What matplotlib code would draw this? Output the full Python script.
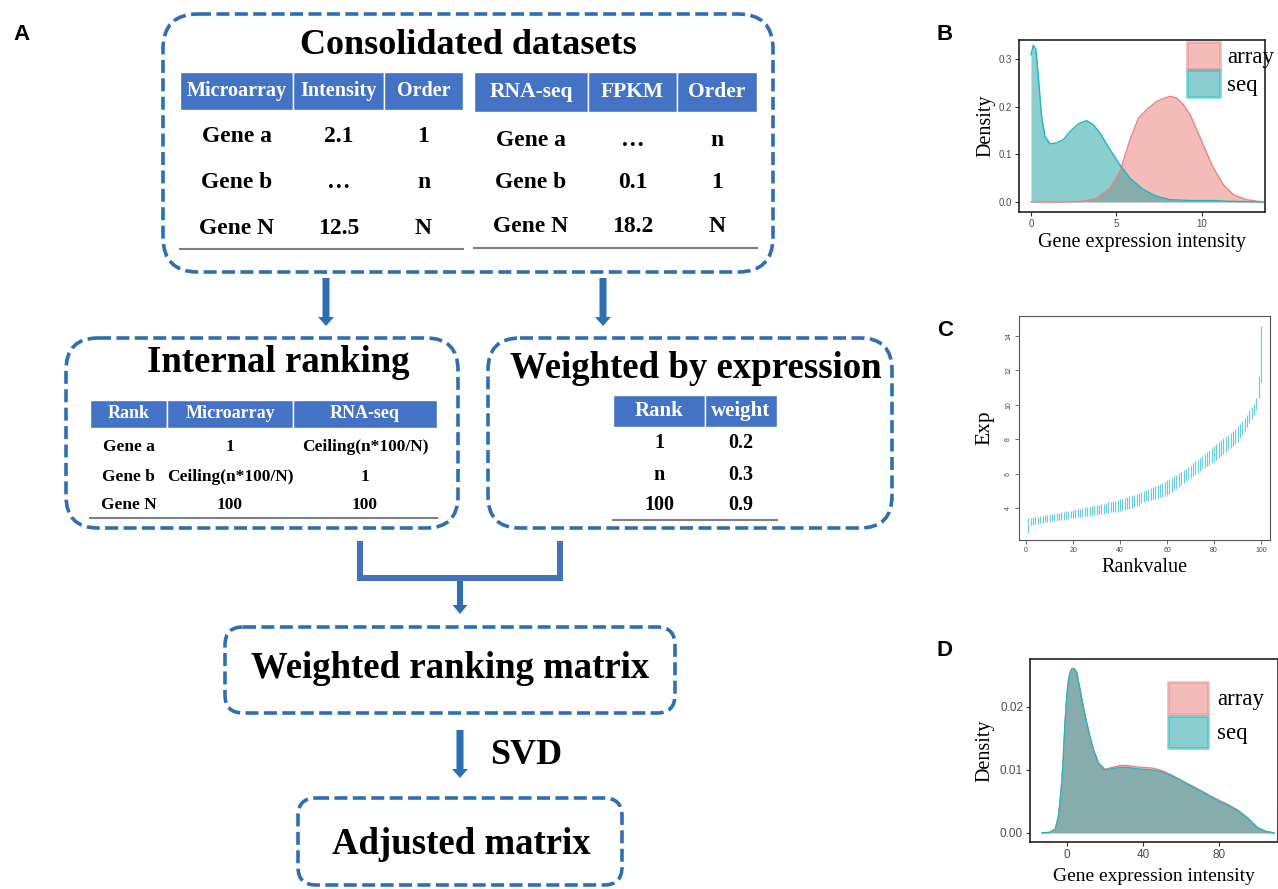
import matplotlib
matplotlib.use("Agg")
import matplotlib.pyplot as plt
from matplotlib.patches import FancyBboxPatch, Rectangle, Patch

plt.rcParams['font.family'] = ['Liberation Serif', 'DejaVu Serif']

# ---------------- panel A: table contents ----------------
micro_cols = ["Microarray", "Intensity", "Order"]
micro_rows = [["Gene a", "2.1", "1"], ["Gene b", "…", "n"], ["Gene N", "12.5", "N"]]
seq_cols = ["RNA-seq", "FPKM", "Order"]
seq_rows = [["Gene a", "…", "n"], ["Gene b", "0.1", "1"], ["Gene N", "18.2", "N"]]
rank_cols = ["Rank", "Microarray", "RNA-seq"]
rank_rows = [["Gene a", "1", "Ceiling(n*100/N)"],
             ["Gene b", "Ceiling(n*100/N)", "1"],
             ["Gene N", "100", "100"]]
weight_cols = ["Rank", "weight"]
weight_rows = [["1", "0.2"], ["n", "0.3"], ["100", "0.9"]]

# ---------------- panel B: density before adjustment ----------------
b_seq_x = [0.0, 0.14, 0.29, 0.43, 0.62, 0.82, 1.11, 1.5, 1.9, 2.29, 2.77, 3.26, 3.65,
           4.04, 4.63, 5.21, 5.8, 6.58, 7.36, 8.14, 9.3, 10.7, 11.66, 13.6]
b_seq = [0.309, 0.329, 0.32, 0.264, 0.18, 0.138, 0.122, 0.124, 0.131, 0.148, 0.164, 0.171,
         0.162, 0.145, 0.11, 0.078, 0.05, 0.026, 0.012, 0.005, 0.003, 0.003, 0.0014, 0.0]
b_array_x = [0.0, 1.9, 3.07, 3.85, 4.63, 5.21, 5.8, 6.29, 6.78, 7.36, 7.75, 8.14, 8.54,
             8.93, 9.32, 9.7, 10.2, 10.68, 11.27, 11.86, 12.6, 13.6]
b_array = [0.0, 0.0, 0.0014, 0.008, 0.029, 0.064, 0.131, 0.176, 0.194, 0.211, 0.217, 0.222,
           0.218, 0.204, 0.183, 0.152, 0.11, 0.071, 0.036, 0.015, 0.005, 0.0]

# ---------------- panel C: expression range per rank ----------------
c_rank = list(range(1, 101))
c_upper = [3.40, 3.43, 3.45, 3.48, 3.50, 3.52, 3.55, 3.57, 3.60, 3.62,
           3.64, 3.67, 3.69, 3.72, 3.74, 3.77, 3.80, 3.82, 3.85, 3.90,
           3.92, 3.95, 3.97, 4.00, 4.03, 4.05, 4.08, 4.11, 4.14, 4.17,
           4.20, 4.23, 4.26, 4.29, 4.32, 4.35, 4.38, 4.42, 4.46, 4.50,
           4.54, 4.58, 4.62, 4.67, 4.72, 4.77, 4.82, 4.88, 4.94, 5.00,
           5.05, 5.10, 5.16, 5.21, 5.27, 5.33, 5.39, 5.46, 5.53, 5.60,
           5.68, 5.76, 5.84, 5.92, 6.01, 6.10, 6.19, 6.29, 6.39, 6.50,
           6.60, 6.71, 6.81, 6.92, 7.03, 7.14, 7.25, 7.37, 7.48, 7.60,
           7.71, 7.82, 7.93, 8.04, 8.15, 8.26, 8.38, 8.50, 8.62, 8.75,
           8.90, 9.06, 9.23, 9.42, 9.70, 9.85, 10.05, 10.40, 11.70, 14.60]
c_lower = [2.56, 3.00, 3.03, 3.06, 3.09, 3.12, 3.14, 3.16, 3.18, 3.20,
           3.22, 3.24, 3.26, 3.28, 3.30, 3.32, 3.34, 3.36, 3.39, 3.42,
           3.44, 3.46, 3.48, 3.50, 3.52, 3.54, 3.56, 3.58, 3.60, 3.62,
           3.64, 3.66, 3.68, 3.70, 3.72, 3.74, 3.76, 3.77, 3.78, 3.80,
           3.84, 3.88, 3.92, 3.97, 4.02, 4.08, 4.14, 4.20, 4.27, 4.34,
           4.38, 4.42, 4.46, 4.50, 4.54, 4.58, 4.62, 4.66, 4.70, 4.75,
           4.84, 4.93, 5.03, 5.13, 5.23, 5.33, 5.44, 5.55, 5.66, 5.77,
           5.86, 5.95, 6.05, 6.14, 6.24, 6.33, 6.43, 6.52, 6.61, 6.70,
           6.80, 6.91, 7.02, 7.13, 7.24, 7.35, 7.47, 7.59, 7.72, 7.85,
           8.05, 8.25, 8.46, 8.68, 8.93, 9.15, 9.40, 9.70, 10.40, 11.30]

# ---------------- panel D: density after adjustment ----------------
d_x = [-13, -9, -6, -4.4, -3.5, -2.6, -1.8, -0.9, 0, 0.8, 1.75, 2.6, 3.5, 4.4, 5.3, 7, 8.7,
       10.5, 12, 14, 16.7, 20, 24, 28, 32, 36, 40, 45, 50, 55, 60, 65, 70, 75, 80, 85, 90,
       95, 100, 104, 109]
d_seq = [0.0, 0.0001, 0.0006, 0.0026, 0.005, 0.008, 0.012, 0.0175, 0.0215, 0.024, 0.0254,
         0.026, 0.0261, 0.0259, 0.0254, 0.0227, 0.02, 0.0175, 0.0155, 0.0132, 0.0111, 0.01,
         0.0102, 0.0104, 0.0104, 0.0102, 0.0101, 0.01, 0.0097, 0.0091, 0.0083, 0.0075,
         0.0067, 0.0058, 0.005, 0.0043, 0.0035, 0.0024, 0.0009, 0.0003, 0.0]
d_array = [0.0, 0.0001, 0.0006, 0.0026, 0.005, 0.008, 0.012, 0.0175, 0.0215, 0.024, 0.0254,
           0.026, 0.0261, 0.0259, 0.0254, 0.0227, 0.02, 0.0175, 0.0155, 0.0132, 0.0111, 0.0101,
           0.0104, 0.0107, 0.0107, 0.0105, 0.0104, 0.0103, 0.0099, 0.0092, 0.0084, 0.0076,
           0.0068, 0.006, 0.0052, 0.0045, 0.0036, 0.0024, 0.0009, 0.0003, 0.0]

BLUE = '#2e6fb4'
HEAD = '#4472c4'
ARRAY_FILL, ARRAY_EDGE = '#eb7b73', '#f08080'
SEQ_FILL, SEQ_EDGE = '#199fa1', '#1fb8c0'
DASH = (0, (3.6, 1.5))

fig = plt.figure(figsize=(12.78, 8.89), dpi=100)

# overlay axes in pixel units for the flow diagram
ax = fig.add_axes([0, 0, 1, 1])
ax.set_xlim(0, 1278)
ax.set_ylim(889, 0)
ax.axis('off')


def dashed_box(x0, y0, x1, y1, r):
    ax.add_patch(FancyBboxPatch((x0, y0), x1 - x0, y1 - y0,
                                boxstyle=f"round,pad=0,rounding_size={r}",
                                fc='none', ec=BLUE, lw=2.6, ls=DASH))


def draw_table(edges, head_top, head_bot, row_ys, line_y, cols, rows, hsize, rsize):
    centers = [(edges[i] + edges[i + 1]) / 2 for i in range(len(cols))]
    for i, name in enumerate(cols):
        ax.add_patch(Rectangle((edges[i], head_top), edges[i + 1] - edges[i],
                               head_bot - head_top, fc=HEAD, ec='white', lw=1))
        ax.text(centers[i], (head_top + head_bot) / 2, name, color='white',
                fontsize=hsize, fontweight='bold', ha='center', va='center')
    for y, row in zip(row_ys, rows):
        for cx, cell in zip(centers, row):
            ax.text(cx, y, cell, fontsize=rsize, fontweight='bold',
                    ha='center', va='center')
    ax.plot([edges[0], edges[-1]], [line_y, line_y], color='#7f7f7f', lw=1.5)


def arrow(x, y0, y1, w=7, hw=16, hl=9, color=BLUE):
    ax.arrow(x, y0, 0, y1 - y0, width=w, head_width=hw, head_length=hl,
             length_includes_head=True, color=color, lw=0)


# top box
dashed_box(163, 14, 773, 272, 35)
ax.text(468, 45, "Consolidated datasets", fontsize=26, fontweight='bold',
        ha='center', va='center')
draw_table([180, 293, 384, 463], 72, 110, [137, 182, 228], 249,
           micro_cols, micro_rows, 14.5, 17)
draw_table([474, 588, 677, 757], 72, 112, [140, 183, 227], 248,
           seq_cols, seq_rows, 15.5, 17)

arrow(326, 278, 326)
arrow(603, 278, 326)

# internal ranking
dashed_box(66, 338, 458, 528, 32)
ax.text(278, 363, "Internal ranking", fontsize=26.5, fontweight='bold',
        ha='center', va='center')
draw_table([90, 167, 293, 437], 400, 428, [447, 477, 505], 518,
           rank_cols, rank_rows, 13, 12.5)

# weighted by expression
dashed_box(488, 338, 892, 528, 32)
ax.text(696, 368, "Weighted by expression", fontsize=26.5, fontweight='bold',
        ha='center', va='center')
draw_table([613, 705, 777], 395, 427, [443, 475, 505], 520,
           weight_cols, weight_rows, 15, 14.5)

# connector
ax.plot([360, 360, 560, 560], [541, 578, 578, 541], color='#4471bb', lw=4.3,
        solid_joinstyle='miter', solid_capstyle='butt')
arrow(460, 578, 614, w=6, hw=15, hl=9)

# weighted ranking matrix
dashed_box(225, 627, 675, 713, 18)
ax.text(450, 669, "Weighted ranking matrix", fontsize=26.5, fontweight='bold',
        ha='center', va='center')

arrow(460, 730, 778)
ax.text(526, 756, "SVD", fontsize=26, fontweight='bold', ha='center', va='center')

dashed_box(298, 798, 622, 885, 18)
ax.text(461, 845, "Adjusted matrix", fontsize=26.5, fontweight='bold',
        ha='center', va='center')

# panel letters
for lab, x, y in [("A", 22, 35), ("B", 945, 35), ("C", 945, 330), ("D", 945, 650)]:
    ax.text(x, y, lab, fontsize=16, fontweight='bold', ha='center', va='center',
            family=['Liberation Sans', 'DejaVu Sans'])


def fig_axes(left, top, right, bottom):
    return fig.add_axes([left / 1278, 1 - bottom / 889, (right - left) / 1278,
                         (bottom - top) / 889])


SANS = ['Liberation Sans', 'DejaVu Sans']

# ---------------- B ----------------
axb = fig_axes(1019, 40, 1265, 212)
axb.fill_between(b_array_x, b_array, color=ARRAY_FILL, alpha=0.5, lw=0)
axb.plot(b_array_x, b_array, color=ARRAY_EDGE, lw=1)
axb.fill_between(b_seq_x, b_seq, color=SEQ_FILL, alpha=0.5, lw=0)
axb.plot(b_seq_x, b_seq, color=SEQ_EDGE, lw=1)
axb.set_xlim(-0.7, 13.7)
axb.set_ylim(-0.021, 0.34)
axb.set_xticks([0, 5, 10])
axb.set_yticks([0.0, 0.1, 0.2, 0.3])
axb.set_yticklabels(["0.0", "0.1", "0.2", "0.3"])
axb.set_xlabel("Gene expression intensity", fontsize=14.5, labelpad=3)
axb.set_ylabel("Density", fontsize=14.5, labelpad=2)
handles = [Patch(fc=ARRAY_FILL, ec=ARRAY_EDGE, alpha=0.5, lw=2, label="array"),
           Patch(fc=SEQ_FILL, ec=SEQ_EDGE, alpha=0.5, lw=2, label="seq")]
axb.legend(handles=handles, loc='upper left', bbox_to_anchor=(0.683, 0.99),
           frameon=False, fontsize=16.5, handlelength=1.44, handleheight=1.44,
           labelspacing=0.05, handletextpad=0.3, borderpad=0, borderaxespad=0)

# ---------------- C ----------------
axc = fig_axes(1019, 316, 1270, 540)
axc.vlines(c_rank, c_lower, c_upper, color='#6ccbdc', lw=0.85)
axc.set_xlim(-3, 103.8)
axc.set_ylim(2.14, 15.16)
axc.set_xticks([0, 20, 40, 60, 80, 100])
axc.set_yticks([4, 6, 8, 10, 12, 14])
axc.set_xlabel("Rankvalue", fontsize=14.5, labelpad=3)
axc.set_ylabel("Exp", fontsize=15.5, labelpad=8)
for lbl in axc.get_yticklabels():
    lbl.set_rotation(90)
    lbl.set_va('center')

# ---------------- D ----------------
axd = fig_axes(1030, 659, 1278, 842)
axd.fill_between(d_x, d_array, color=ARRAY_FILL, alpha=0.5, lw=0)
axd.plot(d_x, d_array, color=ARRAY_EDGE, lw=1)
axd.fill_between(d_x, d_seq, color=SEQ_FILL, alpha=0.5, lw=0)
axd.plot(d_x, d_seq, color=SEQ_EDGE, lw=1)
axd.set_xlim(-19.3, 111)
axd.set_ylim(-0.00143, 0.0276)
axd.set_xticks([0, 40, 80])
axd.set_yticks([0.0, 0.01, 0.02])
axd.set_yticklabels(["0.00", "0.01", "0.02"])
axd.set_xlabel("Gene expression intensity", fontsize=14, labelpad=5)
axd.set_ylabel("Density", fontsize=14.5, labelpad=4)
axd.legend(handles=handles, loc='upper left', bbox_to_anchor=(0.555, 0.874),
           frameon=False, fontsize=16.5, handlelength=1.75, handleheight=1.75,
           labelspacing=0.1, handletextpad=0.4, borderpad=0, borderaxespad=0)

for a, fs in [(axb, 7), (axd, 8.5)]:
    for s in a.spines.values():
        s.set_color('#222222')
        s.set_linewidth(1.2)
    a.tick_params(labelsize=fs, labelcolor='#4d4d4d', length=3, width=0.8,
                  color='#333333', pad=2)
    for lbl in a.get_xticklabels() + a.get_yticklabels():
        lbl.set_family(SANS)

for s in axc.spines.values():
    s.set_color('#555555')
    s.set_linewidth(0.8)
axc.tick_params(labelsize=5, labelcolor='#444444', length=3, width=0.6,
                color='#555555', pad=2)
for lbl in axc.get_xticklabels() + axc.get_yticklabels():
    lbl.set_family(SANS)

fig.savefig("out.png", dpi=100)
